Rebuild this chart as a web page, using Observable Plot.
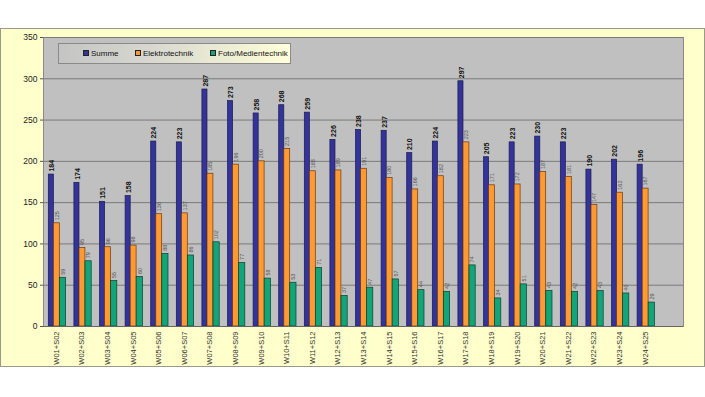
<!DOCTYPE html>
<html>
<head>
<meta charset="utf-8">
<script src="https://cdn.jsdelivr.net/npm/d3@7"></script>
<script src="https://cdn.jsdelivr.net/npm/@observablehq/plot@0.6"></script>
<style>
  html, body { margin: 0; padding: 0; background: #ffffff; }
  body { width: 705px; height: 397px; position: relative; overflow: hidden; font-family: "Liberation Sans", Arial, sans-serif; }
  #box { position: absolute; left: 0px; top: 28px; width: 703px; height: 337px; background: #FFFFCC; border: 1px solid #9a9a8a; }
  #box svg { display: block; }
  #legend { position: absolute; left: 58px; top: 43px; width: 231px; height: 19px; border: 1px solid #8a8a8a;
            background: linear-gradient(to right, #c4c4c4, #d8d8d0 40%, #ffffd8); font-size: 8px; color: #111; }
  .item { position: absolute; top: 5px; white-space: nowrap; line-height: 9px; }
  .sw { display: inline-block; width: 4px; height: 4px; border: 1px solid #222; margin-right: 2px; vertical-align: 0px; }
</style>
</head>
<body>
<div id="box"></div>
<div id="legend"></div>
<script>
const categories = ["W01+S02","W02+S03","W03+S04","W04+S05","W05+S06","W06+S07","W07+S08","W08+S09",
  "W09+S10","W10+S11","W11+S12","W12+S13","W13+S14","W14+S15","W15+S16","W16+S17","W17+S18","W18+S19",
  "W19+S20","W20+S21","W21+S22","W22+S23","W23+S24","W24+S25"];
const summe = [184,174,151,158,224,223,287,273,258,268,259,226,238,237,210,224,297,205,223,230,223,190,202,196];
const elektro = [125,95,96,98,136,137,185,196,200,215,188,189,191,180,166,182,223,171,172,187,181,147,162,167];
const foto = [59,79,55,60,88,86,102,77,58,53,71,37,47,57,44,42,74,34,51,43,42,43,40,29];
const seriesNames = ["Summe","Elektrotechnik","Foto/Medientechnik"];
const seriesColors = ["#333399","#FF9933","#13A57A"];
const yTicks = [0,50,100,150,200,250,300,350];

const rows = (vals) => categories.map((c, i) => ({cat: c, v: vals[i]}));
const dS = rows(summe), dE = rows(elektro), dF = rows(foto);

const font = "Liberation Sans, Arial, sans-serif";
const chart = Plot.plot({
  width: 703,
  height: 337,
  marginLeft: 42,
  marginTop: 8,
  marginBottom: 40,
  marginRight: 21,
  style: {fontFamily: font, background: "transparent", overflow: "visible"},
  x: {domain: [...categories, " "], padding: 0, round: false},
  y: {domain: [0, 350]},
  marks: [
    Plot.frame({fill: "#C0C0C0", stroke: "#8a8a8a"}),
    Plot.gridY(yTicks, {stroke: "#7a7a7a", strokeOpacity: 1, strokeWidth: 1}),
    Plot.barY(dS, {x: "cat", y: "v", fill: seriesColors[0], stroke: "#1a1a50", strokeWidth: 0.7, insetLeft: 5.3, insetRight: 15.2}),
    Plot.barY(dE, {x: "cat", y: "v", fill: seriesColors[1], stroke: "#6a3a10", strokeWidth: 0.7, insetLeft: 10.4, insetRight: 9.3}),
    Plot.barY(dF, {x: "cat", y: "v", fill: seriesColors[2], stroke: "#0b3d2c", strokeWidth: 0.7, insetLeft: 16.4, insetRight: 3.0}),
    Plot.text(dS, {x: "cat", y: "v", text: d => String(d.v), rotate: -90, textAnchor: "start", dx: -4.6, dy: -3,
      fontSize: 7, fontWeight: "bold", fill: "#111"}),
    Plot.text(dE, {x: "cat", y: "v", text: d => String(d.v), rotate: -90, textAnchor: "start", dx: 0.6, dy: -3,
      fontSize: 5.5, fill: "#555"}),
    Plot.text(dF, {x: "cat", y: "v", text: d => String(d.v), rotate: -90, textAnchor: "start", dx: 6.7, dy: -3,
      fontSize: 5.5, fill: "#555"}),
    Plot.axisY(yTicks, {tickSize: 3, tickPadding: 3, fontSize: 8.5, stroke: "#555", fill: "#222", label: null}),
    Plot.axisX({ticks: categories, tickRotate: -90, tickSize: 0, tickPadding: 5, fontSize: 7.5, fill: "#333", textAnchor: "end", label: null}),
    Plot.ruleY([0], {stroke: "#666"})
  ]
});
document.getElementById("box").appendChild(chart);

const legend = document.getElementById("legend");
const lx = [24, 76, 151];
seriesNames.forEach((n, i) => {
  const it = document.createElement("div");
  it.className = "item";
  it.style.left = lx[i] + "px";
  it.innerHTML = `<span class="sw" style="background:${seriesColors[i]}"></span>${n}`;
  legend.appendChild(it);
});
</script>
</body>
</html>
